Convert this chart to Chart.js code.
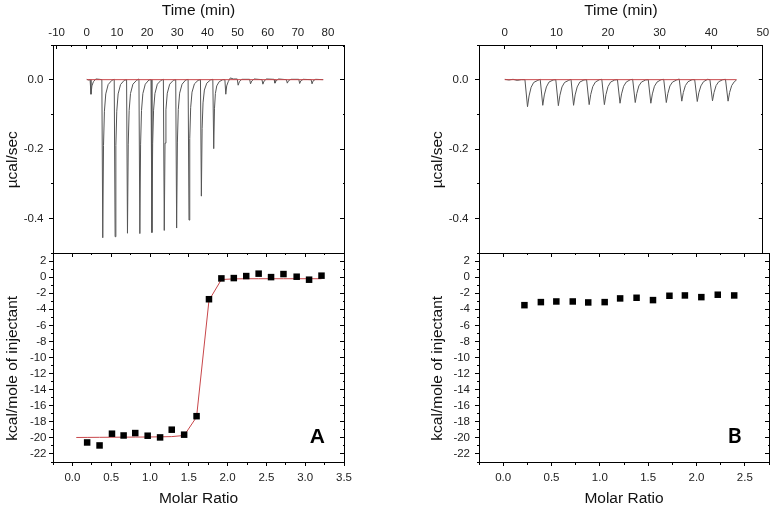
<!DOCTYPE html>
<html>
<head>
<meta charset="utf-8">
<title>ITC titration A / B</title>
<script src="https://cdn.jsdelivr.net/npm/chart.js@4.4.1/dist/chart.umd.min.js"></script>
<style>
  html, body { margin: 0; padding: 0; background: #fff; }
  #wrap { position: relative; width: 778px; height: 509px; }
  #wrap canvas { position: absolute; left: 0; top: 0; }
</style>
</head>
<body>
<div id="wrap">
  <canvas id="rawA" width="778" height="509"></canvas>
  <canvas id="heatA" width="778" height="509"></canvas>
  <canvas id="rawB" width="778" height="509"></canvas>
  <canvas id="heatB" width="778" height="509"></canvas>
</div>
<script>
// panel A raw thermogram, [time (min), µcal/sec]
var rawTraceA = [
  [0.0, 0.001], [0.6, -0.001],
  [1.1, 0.0], [1.4, -0.042], [1.7, -0.018], [2.2, -0.006], [3.0, 0.002], [4.2, 0.001],
  [5.0, 0.0], [5.3, -0.456], [5.55, -0.19], [5.85, -0.091], [6.3, -0.041], [7.1, -0.014], [8.3, -0.002],
  [9.1, 0.001], [9.4, -0.453], [9.65, -0.19], [9.95, -0.091], [10.4, -0.041], [11.2, -0.014], [12.4, -0.002],
  [13.2, 0.0], [13.5, -0.443], [13.75, -0.186], [14.05, -0.089], [14.5, -0.04], [15.3, -0.013], [16.5, -0.002],
  [17.3, 0.002], [17.6, -0.444], [17.85, -0.186], [18.15, -0.089], [18.6, -0.04], [19.4, -0.013], [20.6, -0.001],
  [21.3, 0.0], [21.6, -0.441], [21.85, -0.185], [22.15, -0.088], [22.6, -0.04], [23.4, -0.013], [24.6, -0.002],
  [25.4, 0.001], [25.7, -0.435], [25.95, -0.183], [26.25, -0.087], [26.7, -0.039], [27.5, -0.013], [28.7, -0.002],
  [29.5, 0.0], [29.8, -0.428], [30.05, -0.18], [30.35, -0.086], [30.8, -0.039], [31.6, -0.013], [32.8, -0.001],
  [33.6, 0.001], [33.9, -0.405], [34.15, -0.17], [34.45, -0.081], [34.9, -0.036], [35.7, -0.012], [36.9, -0.002],
  [37.7, 0.0], [38.0, -0.336], [38.25, -0.141], [38.55, -0.067], [39.0, -0.03], [39.8, -0.01], [41.0, -0.001],
  [41.8, 0.001], [42.1, -0.199], [42.35, -0.084], [42.65, -0.04], [43.1, -0.018], [43.9, -0.006], [45.1, 0.0],
  [45.8, 0.0], [46.1, -0.042], [46.4, -0.018], [46.9, -0.006], [47.6, 0.005], [48.6, 0.002],
  [49.9, 0.002], [50.2, -0.016], [50.6, -0.006], [51.4, 0.001],
  [54.0, 0.001], [54.3, -0.012], [54.7, -0.004], [55.5, 0.002],
  [58.1, 0.0], [58.4, -0.013], [58.8, -0.004], [59.6, 0.002],
  [62.1, 0.001], [62.4, -0.010], [62.8, -0.003], [63.6, 0.002],
  [66.2, 0.0], [66.5, -0.010], [66.9, -0.003], [67.7, 0.001],
  [70.3, 0.001], [70.6, -0.011], [71.0, -0.003], [71.8, 0.001],
  [74.4, 0.0], [74.7, -0.012], [75.1, -0.003], [75.9, 0.001],
  [78.4, 0.0]
];
var baselineA = [0.0, 78.4];
var timeRangeA = [-11.2, 85.3];

// panel A integrated heats (kcal/mole of injectant) and fitted curve
var ratioA = [0.19, 0.35, 0.51, 0.66, 0.81, 0.97, 1.13, 1.28, 1.44, 1.60, 1.76, 1.92, 2.08, 2.24, 2.40, 2.56, 2.72, 2.89, 3.05, 3.21];
var heatA = [-20.57, -20.94, -19.48, -19.70, -19.40, -19.73, -19.94, -18.98, -19.60, -17.30, -2.75, -0.16, -0.12, 0.13, 0.43, 0.00, 0.38, 0.05, -0.32, 0.18];
var fitRatioA = [0.05, 0.19, 0.35, 0.51, 0.66, 0.81, 0.97, 1.13, 1.28, 1.44, 1.60, 1.76, 1.92, 2.08, 2.24, 2.40, 2.56, 2.72, 2.89, 3.05, 3.21];
var fitHeatA = [-19.95, -19.94, -19.93, -19.92, -19.91, -19.90, -19.89, -19.87, -19.84, -19.70, -17.40, -2.90, -0.30, -0.22, -0.20, -0.20, -0.20, -0.20, -0.20, -0.20, -0.20];
var ratioRangeA = [-0.25, 3.5];

// panel B raw thermogram
var rawTraceB = [
  [0.0, 0.001], [0.8, -0.001], [1.6, 0.001], [2.4, -0.002], [3.2, 0.0],
  [3.9, 0.0], [4.4, -0.078], [4.7, -0.047], [5.1, -0.022], [5.6, -0.008], [6.4, -0.002],
  [6.86, 0.001], [7.36, -0.074], [7.66, -0.044], [8.06, -0.021], [8.56, -0.007], [9.36, -0.001],
  [9.88, 0.0], [10.38, -0.075], [10.68, -0.045], [11.08, -0.021], [11.58, -0.008], [12.38, -0.002],
  [12.83, 0.001], [13.33, -0.074], [13.63, -0.044], [14.03, -0.021], [14.53, -0.007], [15.33, -0.001],
  [15.85, 0.0], [16.35, -0.072], [16.65, -0.043], [17.05, -0.020], [17.55, -0.007], [18.35, 0.0],
  [18.8, 0.001], [19.3, -0.072], [19.6, -0.043], [20.0, -0.020], [20.5, -0.007], [21.3, -0.001],
  [21.83, 0.0], [22.33, -0.068], [22.63, -0.041], [23.03, -0.019], [23.53, -0.007], [24.33, 0.0],
  [24.78, 0.001], [25.28, -0.066], [25.58, -0.040], [25.98, -0.018], [26.48, -0.007], [27.28, -0.001],
  [27.8, 0.0], [28.3, -0.068], [28.6, -0.041], [29.0, -0.019], [29.5, -0.007], [30.3, 0.0],
  [30.8, 0.001], [31.3, -0.066], [31.6, -0.040], [32.0, -0.018], [32.5, -0.007], [33.3, -0.001],
  [33.8, 0.002], [34.3, -0.062], [34.6, -0.037], [35.0, -0.017], [35.5, -0.006], [36.3, 0.0],
  [36.8, 0.0], [37.3, -0.063], [37.6, -0.038], [38.0, -0.018], [38.5, -0.006], [39.3, 0.001],
  [39.75, 0.0], [40.25, -0.061], [40.55, -0.037], [40.95, -0.017], [41.45, -0.006], [42.25, 0.0],
  [42.77, 0.001], [43.27, -0.062], [43.57, -0.037], [43.97, -0.017], [44.47, -0.006], [44.9, -0.001]
];
var baselineB = [0.0, 44.9];
var timeRangeB = [-5, 50];

// panel B integrated heats
var ratioB = [0.22, 0.39, 0.55, 0.72, 0.88, 1.05, 1.21, 1.38, 1.55, 1.72, 1.88, 2.05, 2.22, 2.39];
var heatB = [-3.49, -3.11, -3.03, -3.03, -3.15, -3.11, -2.65, -2.57, -2.86, -2.32, -2.28, -2.49, -2.19, -2.28];
var ratioRangeB = [-0.25, 2.75];

// shared y ranges
var powerRange = [-0.5, 0.1];
var heatRange = [-23, 3];

var FONT = "'Liberation Sans', Arial, sans-serif";
var TICK = 4, MINOR_TICK = 2;
var NBSP5 = '\u00a0\u00a0\u00a0\u00a0\u00a0';

function isMajor(v, step) {
  var r = v / step;
  return Math.abs(r - Math.round(r)) < 1e-6;
}

function toPoints(xs, ys) {
  return xs.map(function (x, i) { return { x: x, y: ys[i] }; });
}

function pairsToPoints(pairs) {
  return pairs.map(function (p) { return { x: p[0], y: p[1] }; });
}

function fmt0(v) { return String(Math.round(v)); }
function fmt1(v) { return (Math.abs(v) < 1e-9 ? 0 : v).toFixed(1); }

// one side of the box: ticks point out on left/bottom, in on top/right
function frameAxis(o) {
  var horizontal = o.position === 'top' || o.position === 'bottom';
  var inward = o.position === 'top' || o.position === 'right';
  var fromBorder = o.position === 'bottom' || o.position === 'right';
  var axis = {
    type: 'linear',
    axis: horizontal ? 'x' : 'y',
    position: o.position,
    min: o.range[0],
    max: o.range[1],
    afterFit: function (scale) {
      if (horizontal) scale.height = o.size; else scale.width = o.size;
    },
    border: { display: true, color: '#000', width: 1 },
    grid: {
      drawOnChartArea: false,
      tickLength: inward ? -TICK : TICK,
      tickColor: '#000',
      tickWidth: 1,
      tickBorderDash: function (ctx) {
        if (!ctx.tick || isMajor(ctx.tick.value, o.major)) return [];
        return fromBorder ? [MINOR_TICK, 100] : [0, TICK - MINOR_TICK, MINOR_TICK, 100];
      }
    },
    ticks: {
      display: !!o.format,
      stepSize: o.minor,
      includeBounds: false,
      autoSkip: false,
      maxRotation: 0,
      minRotation: 0,
      padding: o.labelPad || 0,
      color: '#222',
      font: { family: FONT, size: 11.5 },
      callback: function (v) { return (o.format && isMajor(v, o.major)) ? o.format(v) : ''; }
    },
    title: { display: false }
  };
  if (o.title) {
    axis.title = { display: true, text: o.title, color: '#111', font: { family: FONT, size: 15.5 }, padding: o.titlePad };
  }
  return axis;
}

// big panel letter inside the heat plot
var panelLetter = {
  id: 'panelLetter',
  afterDatasetsDraw: function (chart, args, opts) {
    var ctx = chart.ctx;
    ctx.save();
    ctx.font = opts.font;
    ctx.fillStyle = '#000';
    ctx.textAlign = 'center';
    ctx.textBaseline = 'alphabetic';
    ctx.fillText(opts.text, chart.scales.x.getPixelForValue(opts.x), chart.scales.y.getPixelForValue(opts.y));
    ctx.restore();
  }
};

// upper plot: raw power vs time
function makeRaw(id, trace, baseline, timeRange, pad, yWidth, yLabelPad) {
  new Chart(document.getElementById(id), {
    type: 'scatter',
    data: {
      datasets: [
        { data: toPoints(baseline, [0, 0]), showLine: true, borderColor: '#c8464a', borderWidth: 1, pointRadius: 0, xAxisID: 'x', yAxisID: 'y' },
        { data: pairsToPoints(trace), showLine: true, borderColor: '#555', borderWidth: 1, pointRadius: 0, xAxisID: 'x', yAxisID: 'y' }
      ]
    },
    options: {
      responsive: false,
      animation: false,
      events: [],
      layout: { padding: { left: pad.left, right: pad.right, top: 0, bottom: 256 } },
      plugins: { legend: { display: false }, tooltip: { enabled: false } },
      scales: {
        x: frameAxis({ position: 'top', range: timeRange, minor: 5, major: 10, size: 45, labelPad: 8.8, format: fmt0, title: 'Time (min)', titlePad: { top: 1 } }),
        y: frameAxis({ position: 'left', range: powerRange, minor: 0.1, major: 0.2, size: yWidth, labelPad: yLabelPad, format: fmt1, title: 'µcal/sec' + NBSP5, titlePad: { top: 3.7 } }),
        y2: frameAxis({ position: 'right', range: powerRange, minor: 0.1, major: 0.2, size: 0 })
      }
    }
  });
}

// lower plot: heat per injection vs molar ratio
function makeHeat(id, xs, ys, fitXs, fitYs, ratioRange, pad, yWidth, yLabelPad, letter) {
  var datasets = [
    { data: toPoints(xs, ys), pointStyle: 'rect', pointRadius: 4.6, pointBackgroundColor: '#000', pointBorderWidth: 0, xAxisID: 'x', yAxisID: 'y' }
  ];
  if (fitXs) {
    datasets.push({ data: toPoints(fitXs, fitYs), showLine: true, borderColor: '#c8464a', borderWidth: 1, pointRadius: 0, xAxisID: 'x', yAxisID: 'y' });
  }
  new Chart(document.getElementById(id), {
    type: 'scatter',
    data: { datasets: datasets },
    plugins: [panelLetter],
    options: {
      responsive: false,
      animation: false,
      events: [],
      layout: { padding: { left: pad.left, right: pad.right, top: 253, bottom: 0 } },
      plugins: { legend: { display: false }, tooltip: { enabled: false }, panelLetter: letter },
      scales: {
        x: frameAxis({ position: 'bottom', range: ratioRange, minor: 0.25, major: 0.5, size: 47, labelPad: 5.4, format: fmt1, title: 'Molar Ratio', titlePad: { bottom: 1.4 } }),
        x2: frameAxis({ position: 'top', range: ratioRange, minor: 0.25, major: 0.5, size: 0 }),
        y: frameAxis({ position: 'left', range: heatRange, minor: 1, major: 2, size: yWidth, labelPad: yLabelPad, format: fmt0, title: 'kcal/mole of injectant' + NBSP5, titlePad: { top: 3.7 } }),
        y2: frameAxis({ position: 'right', range: heatRange, minor: 1, major: 2, size: 0 })
      }
    }
  });
}

makeRaw('rawA', rawTraceA, baselineA, timeRangeA, { left: 0, right: 434 }, 53, 5.5);
makeHeat('heatA', ratioA, heatA, fitRatioA, fitHeatA, ratioRangeA, { left: 0, right: 434 }, 53, 2.5,
  { text: 'A', font: "bold 21px 'Liberation Sans', Arial, sans-serif", x: 3.155, y: -20.6 });

makeRaw('rawB', rawTraceB, baselineB, timeRangeB, { left: 424.5, right: 9 }, 54.5, 6.5);
makeHeat('heatB', ratioB, heatB, null, null, ratioRangeB, { left: 424.5, right: 9 }, 54.5, 5,
  { text: 'B', font: "bold 21px Lato, 'Liberation Sans', sans-serif", x: 2.396, y: -20.6 });
</script>
</body>
</html>
